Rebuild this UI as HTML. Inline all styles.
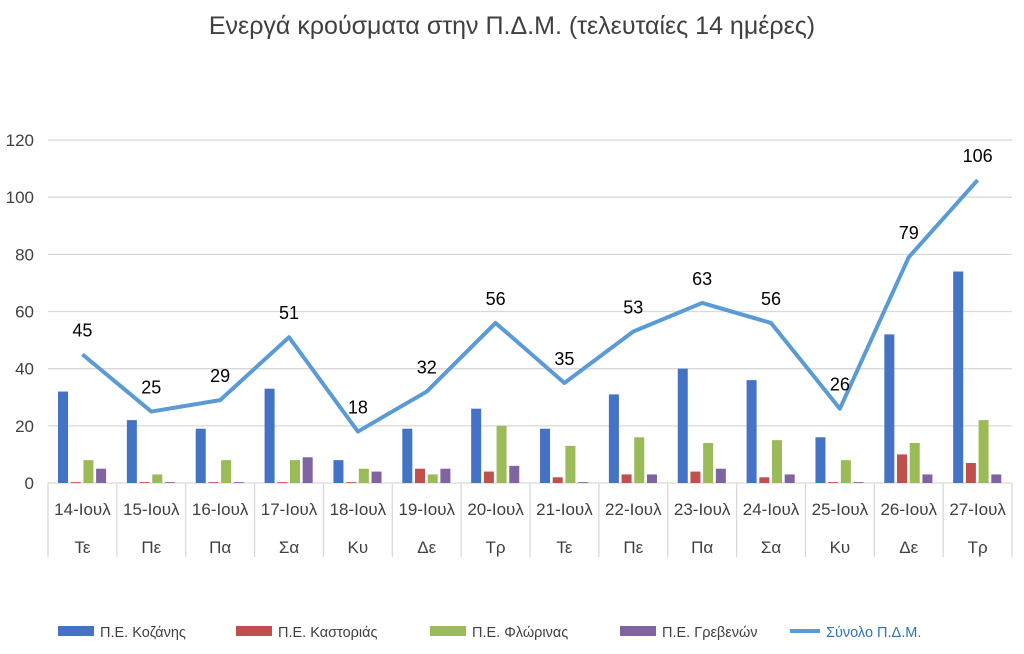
<!DOCTYPE html><html><head><meta charset="utf-8"><style>body{margin:0;background:#fff}svg{display:block}text{font-family:"Liberation Sans","DejaVu Sans",sans-serif}</style></head><body>
<svg width="1024" height="654" xmlns="http://www.w3.org/2000/svg" id="s">
<rect width="1024" height="654" fill="#fff"/>
<text x="512" y="34" text-anchor="middle" font-size="25" fill="#404040">Ενεργά κρούσματα στην Π.Δ.Μ. (τελευταίες 14 ημέρες)</text>
<g id="g"></g>
</svg>
<script>
const K=[32,22,19,33,8,19,26,19,31,40,36,16,52,74],C=[0,0,0,0,0,5,4,2,3,4,2,0,10,7],F=[8,3,8,8,5,3,20,13,16,14,15,8,14,22],G=[5,0,0,9,4,5,6,0,3,5,3,0,3,3],T=[45,25,29,51,18,32,56,35,53,63,56,26,79,106];
const D=["Τε","Πε","Πα","Σα","Κυ","Δε","Τρ","Τε","Πε","Πα","Σα","Κυ","Δε","Τρ"];
const x0=48,w=68.86,y0=483,s=2.858;let h='';
for(let v=0;v<=120;v+=20){const y=y0-v*s;if(v)h+=`<line x1="${x0}" x2="1012" y1="${y}" y2="${y}" stroke="#d9d9d9" stroke-width="1.3"/>`;h+=`<text x="34" y="${y+6}" text-anchor="end" font-size="17" fill="#404040">${v}</text>`;}
for(let i=0;i<=14;i++){const x=x0+i*w;h+=`<line x1="${x}" x2="${x}" y1="${y0}" y2="557" stroke="#d9d9d9" stroke-width="1.3"/>`;}
h+=`<line x1="${x0}" x2="1012" y1="${y0}" y2="${y0}" stroke="#d9d9d9" stroke-width="1.3"/>`;
const cols=["#4472c4","#c0504d","#9bbb59","#8064a2"];const S=[K,C,F,G];
for(let i=0;i<14;i++){const xs=x0+i*w;S.forEach((a,j)=>{const v=Math.max(a[i],0.3);h+=`<rect x="${xs+10+j*12.7}" y="${y0-v*s}" width="10" height="${v*s}" fill="${cols[j]}"/>`;});
h+=`<text x="${xs+w/2}" y="515" text-anchor="middle" font-size="17" fill="#404040">${14+i}-Ιουλ</text><text x="${xs+w/2}" y="553" text-anchor="middle" font-size="17" fill="#404040">${D[i]}</text>`;}
let p=T.map((v,i)=>`${x0+(i+.5)*w},${y0-v*s}`).join(' ');
h+=`<polyline points="${p}" fill="none" stroke="#5b9bd5" stroke-width="4" stroke-linejoin="round"/>`;
T.forEach((v,i)=>{h+=`<text x="${x0+(i+.5)*w}" y="${y0-v*s-18}" text-anchor="middle" font-size="18" fill="#000">${v}</text>`;});
const L=[["Π.Ε. Κοζάνης",58,cols[0]],["Π.Ε. Καστοριάς",236,cols[1]],["Π.Ε. Φλώρινας",430,cols[2]],["Π.Ε. Γρεβενών",620,cols[3]]];
L.forEach(l=>{h+=`<rect x="${l[1]}" y="626" width="36" height="10" fill="${l[2]}"/><text x="${l[1]+42}" y="637" font-size="14.5" fill="#404040">${l[0]}</text>`;});
h+=`<line x1="790" x2="820" y1="631" y2="631" stroke="#5b9bd5" stroke-width="4"/><text x="826" y="637" font-size="14.5" fill="#2e75b6">Σύνολο Π.Δ.Μ.</text>`;
document.getElementById('g').innerHTML=h;
</script></body></html>
